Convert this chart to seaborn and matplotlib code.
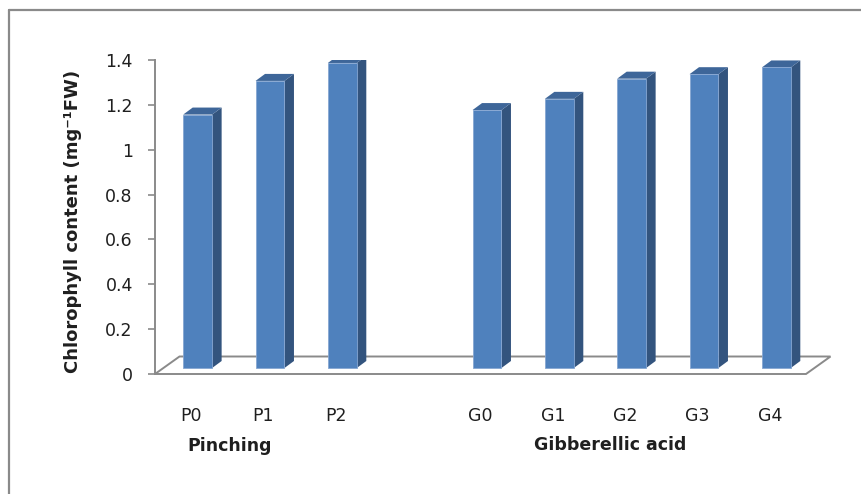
import numpy as np
import pandas as pd
import matplotlib
matplotlib.use("Agg")
import matplotlib.pyplot as plt
import seaborn as sns
from matplotlib.patches import Polygon
from matplotlib.transforms import ScaledTranslation
from matplotlib.lines import Line2D

# Chlorophyll content per treatment
treatments = ["P0", "P1", "P2", "G0", "G1", "G2", "G3", "G4"]
chlorophyll = [1.13, 1.28, 1.36, 1.15, 1.20, 1.29, 1.31, 1.34]
# category slots along the x axis (blank slot separates the two groups)
slot_order = ["P0", "P1", "P2", "", "G0", "G1", "G2", "G3", "G4"]
group_names = ["Pinching", "Gibberellic acid"]
y_ticks = [0, 0.2, 0.4, 0.6, 0.8, 1.0, 1.2, 1.4]
y_tick_labels = ["0", "0.2", "0.4", "0.6", "0.8", "1", "1.2", "1.4"]
y_label = "Chlorophyll content (mg\u207b\u00b9FW)"

sns.set_theme(style="white")
plt.rcParams["font.family"] = ["DejaVu Sans"]

W, H, DPI = 862, 494, 100
fig = plt.figure(figsize=(W / DPI, H / DPI), dpi=DPI)
fig.patch.set_facecolor("white")


def fx(px):
    return px / W


def fy(py):
    return 1 - py / H


# plot area in pixels (front plane of the 3-D box)
left, right, top, bottom = 155, 806, 60, 374
ax = fig.add_axes([fx(left), fy(bottom), (right - left) / W, (bottom - top) / H])
ax.set_facecolor("none")

FRONT = "#4F81BD"
SIDE = "#33547E"
TOP = "#3E6699"
AXIS = "#8A8A8A"
TEXT = "#1f1f1f"

df = pd.DataFrame({"treatment": treatments, "chlorophyll": chlorophyll})
sns.barplot(data=df, x="treatment", y="chlorophyll", order=slot_order,
            color=FRONT, saturation=1, width=0.40, ax=ax, zorder=3,
            edgecolor="#86A6D2", linewidth=0.6, errorbar=None)

ax.set_xlim(-0.5, len(slot_order) - 0.5)
ax.set_ylim(0, 1.4)

# pixel -> data conversions for the pseudo 3-D depth
px_x = (right - left) / (len(slot_order))
px_y = (bottom - top) / 1.4

# bars sit in the middle of the floor depth
shift = ax.transData + ScaledTranslation(6.5 / DPI, 6 / DPI, fig.dpi_scale_trans)
ddx, ddy = 9.5 / px_x, 7 / px_y

for p in list(ax.patches):
    h = p.get_height()
    if not np.isfinite(h) or h == 0:
        continue
    p.set_transform(shift)
    x0, w = p.get_x(), p.get_width()
    side = Polygon([(x0 + w, 0), (x0 + w + ddx, ddy), (x0 + w + ddx, h + ddy), (x0 + w, h)],
                   closed=True, facecolor=SIDE, edgecolor="none", transform=shift, zorder=2.9)
    topf = Polygon([(x0, h), (x0 + w, h), (x0 + w + ddx, h + ddy), (x0 + ddx, h + ddy)],
                   closed=True, facecolor=TOP, edgecolor="none", transform=shift, zorder=2.9)
    ax.add_patch(side)
    ax.add_patch(topf)

# floor of the 3-D box
fdx, fdy = 24.5 / px_x, 17.5 / px_y
x_lo, x_hi = -0.5, len(slot_order) - 0.5
floor = Polygon([(x_lo, 0), (x_hi, 0), (x_hi + fdx, fdy), (x_lo + fdx, fdy)],
                closed=True, facecolor="white", edgecolor=AXIS, linewidth=1.4,
                clip_on=False, zorder=1)
ax.add_patch(floor)

# axes styling
for s in ["top", "right", "bottom"]:
    ax.spines[s].set_visible(False)
ax.spines["left"].set_color(AXIS)
ax.spines["left"].set_linewidth(1.4)
ax.set_yticks(y_ticks)
ax.set_yticklabels(y_tick_labels)
ax.tick_params(axis="y", direction="out", length=5, width=1.2, color=AXIS,
               pad=11, labelsize=12.5, labelcolor=TEXT, left=True)
ax.set_xticks(range(len(slot_order)))
ax.set_xticklabels(slot_order)
ax.tick_params(axis="x", length=0, pad=24, labelsize=12.5, labelcolor=TEXT)
ax.set_xlabel("")
ax.set_ylabel("")
ax.grid(False)

# axis title and group captions
fig.text(fx(73), fy(221), y_label, rotation=90, ha="center", va="center",
         fontsize=13, fontweight="bold", color=TEXT)
fig.text(fx(229.5), fy(446), group_names[0], ha="center", va="center",
         fontsize=12.5, fontweight="bold", color=TEXT)
fig.text(fx(610), fy(445), group_names[1], ha="center", va="center",
         fontsize=12.5, fontweight="bold", color=TEXT)

# chart border
fig.add_artist(Line2D([fx(9), fx(9)], [fy(10), 0], color=AXIS, linewidth=1.6))
fig.add_artist(Line2D([fx(9), 1], [fy(10), fy(10)], color=AXIS, linewidth=1.6))

fig.savefig("out.png", dpi=DPI, facecolor="white")
